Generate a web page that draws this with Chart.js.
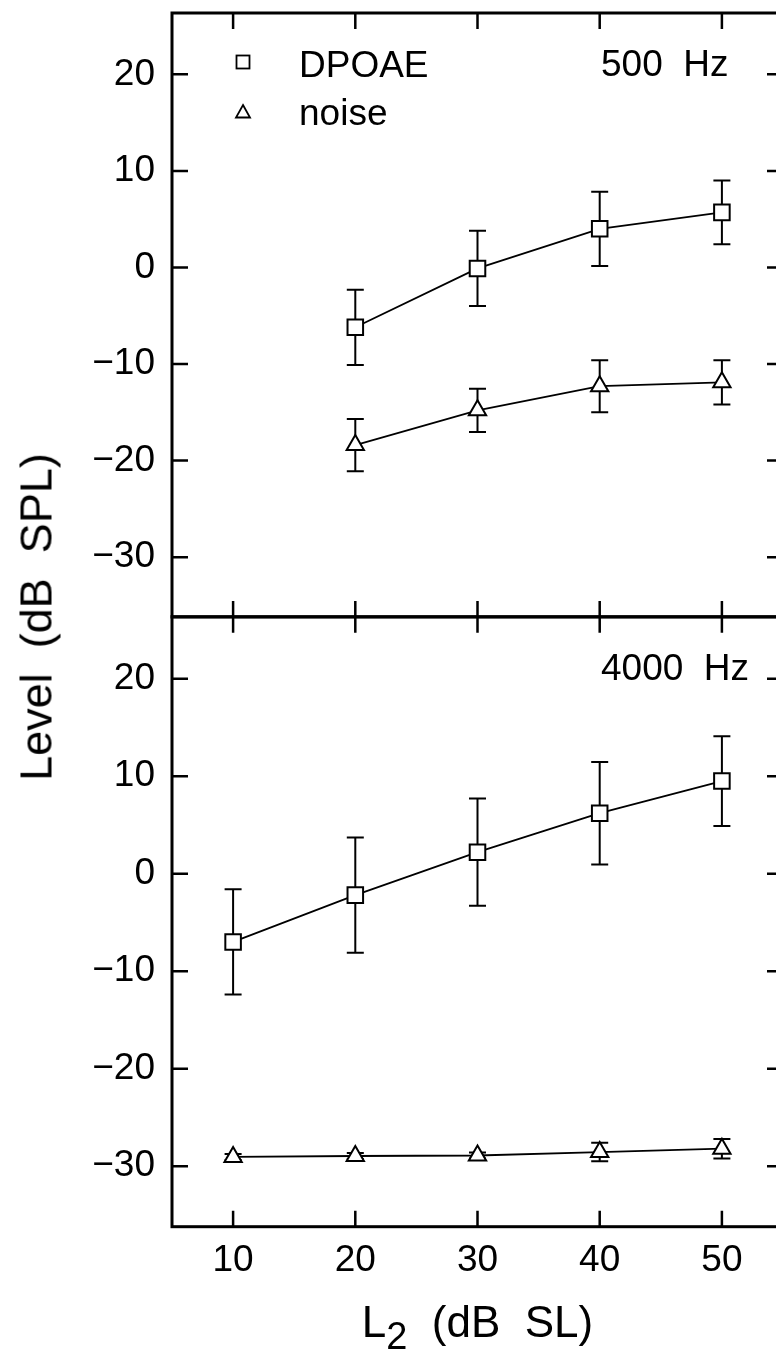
<!DOCTYPE html>
<html>
<head>
<meta charset="utf-8">
<script src="https://cdn.jsdelivr.net/npm/chart.js@4.4.1/dist/chart.umd.min.js"></script>
<style>
  html, body { margin: 0; padding: 0; background: #fff; overflow: hidden; }
  body { width: 776px; height: 1353px; position: relative; font-family: "Liberation Sans", Arial, sans-serif; color: #000; }
  canvas { position: absolute; left: 0; }
  #topChart { top: 0; }
  #bottomChart { top: 600px; }
  #yTitle {
    position: absolute; left: 36px; top: 617px;
    font-size: 45px; line-height: 45px; white-space: pre;
    transform: translate(-50%, -50%) rotate(-90deg);
  }
  #xTitle {
    position: absolute; left: 172px; width: 611px; top: 1300px;
    font-size: 44px; line-height: 44px; white-space: pre; text-align: center;
  }
  #xTitle span { font-size: 38px; position: relative; top: 12px; }
</style>
</head>
<body>
<canvas id="topChart" width="800" height="640"></canvas>
<canvas id="bottomChart" width="800" height="753"></canvas>
<div id="yTitle">Level  (dB  SPL)</div>
<div id="xTitle">L<span>2</span>  (dB  SL)</div>
<script>
// data
const levels = [10, 20, 30, 40, 50];
const yTickValues = [-30, -20, -10, 0, 10, 20];

const dpoae500 = [null, -6.2, -0.1, 4.0, 5.7];
const dpoae500Err = [null, 3.9, 3.9, 3.85, 3.3];
const noise500 = [null, -18.4, -14.8, -12.3, -11.9];
const noise500Err = [null, 2.7, 2.25, 2.7, 2.3];

const dpoae4000 = [-7.0, -2.2, 2.2, 6.2, 9.5];
const dpoae4000Err = [5.4, 5.9, 5.5, 5.25, 4.6];
const noise4000 = [-29.05, -28.95, -28.9, -28.55, -28.2];
const noise4000Err = [0.3, 0.3, 0.3, 0.95, 1.0];

const xMin = 5, xMax = 55;
const yMin = -36.2, yMax = 26.35;

const FONT = '"Liberation Sans", Arial, sans-serif';
const TICK_LEN = 16;
const CAP = 8.5;

Chart.defaults.font.family = FONT;
Chart.defaults.color = '#000';

function toPoints(values, errors) {
    const pts = [];
    levels.forEach((x, i) => {
        if (values[i] == null) return;
        pts.push({ x: x, y: values[i], err: errors[i] });
    });
    return pts;
}

function fmtTick(v) {
    return v < 0 ? '\u2212' + Math.abs(v) : String(v);
}

// frame and inward tick marks on all four sides
const framePlugin = {
    id: 'frame',
    afterDraw(chart) {
        const { ctx, chartArea: a, scales: { x, y } } = chart;
        ctx.save();
        ctx.strokeStyle = '#000';
        ctx.lineWidth = 2.5;
        ctx.beginPath();
        levels.forEach(v => {
            const px = x.getPixelForValue(v);
            ctx.moveTo(px, a.top); ctx.lineTo(px, a.top + TICK_LEN);
            ctx.moveTo(px, a.bottom); ctx.lineTo(px, a.bottom - TICK_LEN);
        });
        yTickValues.forEach(v => {
            const py = y.getPixelForValue(v);
            ctx.moveTo(a.left, py); ctx.lineTo(a.left + TICK_LEN, py);
            ctx.moveTo(a.right, py); ctx.lineTo(a.right - TICK_LEN, py);
        });
        ctx.stroke();
        ctx.lineWidth = 3;
        ctx.strokeRect(a.left, a.top, a.right - a.left, a.bottom - a.top);
        ctx.restore();
    }
};

// vertical error bars with caps, drawn under the markers
const errorBarPlugin = {
    id: 'errorBars',
    beforeDatasetsDraw(chart) {
        const { ctx, scales: { y } } = chart;
        ctx.save();
        ctx.strokeStyle = '#000';
        ctx.lineWidth = 2;
        chart.data.datasets.forEach((ds, i) => {
            const meta = chart.getDatasetMeta(i);
            meta.data.forEach((pt, j) => {
                const d = ds.data[j];
                if (!d || !d.err) return;
                const yTop = y.getPixelForValue(d.y + d.err);
                const yBot = y.getPixelForValue(d.y - d.err);
                ctx.beginPath();
                ctx.moveTo(pt.x, yTop); ctx.lineTo(pt.x, yBot);
                ctx.moveTo(pt.x - CAP, yTop); ctx.lineTo(pt.x + CAP, yTop);
                ctx.moveTo(pt.x - CAP, yBot); ctx.lineTo(pt.x + CAP, yBot);
                ctx.stroke();
            });
        });
        ctx.restore();
    }
};

// panel frequency label and the symbol key
const panelTextPlugin = {
    id: 'panelText',
    afterDraw(chart, args, opts) {
        const { ctx, chartArea: a } = chart;
        ctx.save();
        ctx.fillStyle = '#000';
        ctx.font = '37px ' + FONT;
        ctx.textBaseline = 'alphabetic';
        ctx.textAlign = 'left';
        ctx.fillText(opts.label, a.left + 429, a.top + 63);

        if (opts.showKey) {
            const mx = a.left + 71;
            ctx.strokeStyle = '#000';
            ctx.lineWidth = 1.8;
            // square
            ctx.strokeRect(mx - 6.5, a.top + 49 - 6.5, 13, 13);
            // triangle
            const ty = a.top + 99;
            ctx.beginPath();
            ctx.moveTo(mx, ty - 7);
            ctx.lineTo(mx + 7, ty + 5.5);
            ctx.lineTo(mx - 7, ty + 5.5);
            ctx.closePath();
            ctx.stroke();
            ctx.fillText(opts.keyLabels[0], a.left + 127, a.top + 64);
            ctx.fillText(opts.keyLabels[1], a.left + 127, a.top + 112);
        }
        ctx.restore();
    }
};

function makeDataset(label, pts, style, radius) {
    return {
        label: label,
        data: pts,
        borderColor: '#000',
        borderWidth: 1.8,
        backgroundColor: '#fff',
        pointStyle: style,
        pointRadius: radius,
        pointHoverRadius: radius,
        pointBorderWidth: 2,
        pointBorderColor: '#000',
        pointBackgroundColor: '#fff',
        tension: 0,
        fill: false
    };
}

function makePanel(canvasId, panel) {
    const ctx = document.getElementById(canvasId).getContext('2d');
    return new Chart(ctx, {
        type: 'line',
        data: {
            datasets: [
                makeDataset('DPOAE', toPoints(panel.dpoae, panel.dpoaeErr), 'rect', 11),
                makeDataset('noise', toPoints(panel.noise, panel.noiseErr), 'triangle', 10)
            ]
        },
        options: {
            responsive: false,
            animation: false,
            devicePixelRatio: 1,
            layout: { padding: panel.padding },
            plugins: {
                legend: { display: false },
                tooltip: { enabled: false },
                panelText: { label: panel.label, showKey: panel.showKey, keyLabels: ['DPOAE', 'noise'] }
            },
            scales: {
                x: {
                    type: 'linear',
                    min: xMin,
                    max: xMax,
                    display: panel.showX,
                    afterFit(scale) {
                        if (panel.showX) scale.height = 126.3;
                        scale.paddingLeft = 0;
                        scale.paddingRight = 0;
                    },
                    afterBuildTicks(scale) { scale.ticks = levels.map(v => ({ value: v })); },
                    grid: { display: false, drawTicks: false },
                    border: { display: false },
                    ticks: { padding: 12, font: { size: 37 }, color: '#000', maxRotation: 0 }
                },
                y: {
                    type: 'linear',
                    min: yMin,
                    max: yMax,
                    afterFit(scale) {
                        scale.width = 172;
                        scale.paddingTop = 0;
                        scale.paddingBottom = 0;
                    },
                    afterBuildTicks(scale) { scale.ticks = yTickValues.map(v => ({ value: v })); },
                    grid: { display: false, drawTicks: false },
                    border: { display: false },
                    ticks: { padding: 17, font: { size: 37 }, color: '#000', callback: v => fmtTick(v) }
                }
            }
        },
        plugins: [errorBarPlugin, framePlugin, panelTextPlugin]
    });
}

makePanel('topChart', {
    dpoae: dpoae500, dpoaeErr: dpoae500Err,
    noise: noise500, noiseErr: noise500Err,
    label: '500  Hz', showKey: true, showX: false,
    padding: { left: 0, right: 17, top: 6, bottom: 23 }
});

makePanel('bottomChart', {
    dpoae: dpoae4000, dpoaeErr: dpoae4000Err,
    noise: noise4000, noiseErr: noise4000Err,
    label: '4000  Hz', showKey: false, showX: true,
    padding: { left: 0, right: 17, top: 16.7, bottom: 0 }
});
</script>
</body>
</html>
